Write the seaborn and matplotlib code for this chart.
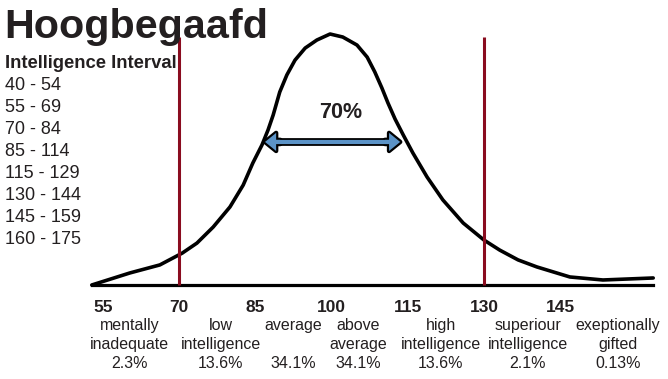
import matplotlib
matplotlib.use('Agg')
import matplotlib.pyplot as plt
import seaborn as sns
import pandas as pd
from matplotlib.patches import FancyArrowPatch

# ---------------- data ----------------
title = 'Hoogbegaafd'
interval_header = 'Intelligence Interval'
intervals = ['40 - 54', '55 - 69', '70 - 84', '85 - 114',
             '115 - 129', '130 - 144', '145 - 159', '160 - 175']

curve_iq = [52.8, 60.3, 66.2, 70.6, 73.5, 76.7, 80.0, 82.6, 84.5, 86.3, 87.5,
            88.5, 89.8, 91.2, 92.8, 94.8, 97.1, 99.7, 102.2, 105.0, 107.0,
            108.5, 109.9, 111.1, 112.5, 114.1, 116.0, 118.8, 121.9, 125.9,
            130.0, 133.1, 136.7, 140.4, 146.9, 153.4, 163.3]
curve_freq = [0, 4.8, 8.0, 12.7, 16.7, 23.1, 31.1, 39.8, 48.6, 55.8, 61.8,
              67.7, 76.9, 83.7, 89.6, 94.4, 97.6, 100, 98.8, 95.6, 90.8,
              84.9, 78.5, 72.5, 66.1, 59.8, 52.6, 43.0, 33.9, 24.7,
              17.9, 13.9, 10.0, 7.2, 3.2, 2.0, 2.8]

tick_values = [55, 70, 85, 100, 115, 130, 145, 160]
tick_labels = ['55', '70', '85', '100', '115', '130', '145', '']

category_line1 = ['mentally', 'low', 'average', 'above', 'high',
                  'superiour', 'exeptionally']
category_line2 = ['inadequate', 'intelligence', '', 'average',
                  'intelligence', 'intelligence', 'gifted']
category_shares = ['2.3%', '13.6%', '34.1%', '34.1%', '13.6%', '2.1%', '0.13%']

cutoffs = [70, 130]
central_share = '70%'

# ---------------- layout ----------------
W, H = 668, 379
XLIM = (34.74, 166.21)
YLIM = (-37.45, 113.55)
cat_x = [60.3, 78.2, 92.4, 105.2, 121.5, 138.6, 156.4]
arrow_left, arrow_right, arrow_y = 86.9, 113.5, 57.0
TXT = '#231f20'
RED = '#8a0c1f'
BLUE = '#5b93c7'

sns.set_theme(style='white')
plt.rcParams['font.family'] = ['Liberation Sans', 'DejaVu Sans']

fig = plt.figure(figsize=(W / 100, H / 100), dpi=100)
ax = fig.add_axes([0, 0, 1, 1])
ax.set_facecolor('white')

df = pd.DataFrame({'iq': curve_iq, 'freq': curve_freq})
sns.lineplot(data=df, x='iq', y='freq', ax=ax, color='black', lw=2.6,
             sort=True, estimator=None, zorder=3)
for ln in ax.lines:
    ln.set_solid_joinstyle('round')
    ln.set_solid_capstyle('round')

ax.vlines(cutoffs, 0, 98.8, color=RED, lw=2.2, zorder=4)

ax.set_xlim(*XLIM)
ax.set_ylim(*YLIM)
ax.set_xlabel('')
ax.set_ylabel('')
ax.set_yticks([])
for s in ['top', 'left', 'right']:
    ax.spines[s].set_visible(False)
ax.spines['bottom'].set_position(('data', 0))
ax.spines['bottom'].set_bounds(curve_iq[0], curve_iq[-1])
ax.spines['bottom'].set_linewidth(2.3)
ax.spines['bottom'].set_color('black')
ax.set_xticks(tick_values, tick_labels)
ax.tick_params(axis='x', direction='out', length=6, width=2.3, color='black',
               pad=4.5, labelsize=12.5, labelcolor=TXT)
for lab in ax.get_xticklabels():
    lab.set_fontweight('bold')

# double arrow: black shaft + blue shaft, black-outlined blue heads
head_span = 3.0
ax.plot([arrow_left + 2, arrow_right - 2], [arrow_y, arrow_y], color='black',
        lw=5.6, solid_capstyle='butt', zorder=5)
style = 'simple,head_length=8,head_width=13,tail_width=3'
for end, start in ((arrow_left, arrow_left + head_span),
                   (arrow_right, arrow_right - head_span)):
    ax.add_patch(FancyArrowPatch((start, arrow_y), (end, arrow_y),
                                 arrowstyle=style, mutation_scale=1,
                                 shrinkA=0, shrinkB=0, facecolor='black',
                                 edgecolor='black', lw=3.2, zorder=5))
ax.plot([arrow_left + 2, arrow_right - 2], [arrow_y, arrow_y], color=BLUE,
        lw=3.0, solid_capstyle='butt', zorder=6)
for end, start in ((arrow_left, arrow_left + head_span),
                   (arrow_right, arrow_right - head_span)):
    ax.add_patch(FancyArrowPatch((start, arrow_y), (end, arrow_y),
                                 arrowstyle=style, mutation_scale=1,
                                 shrinkA=0, shrinkB=0, facecolor=BLUE,
                                 edgecolor='none', lw=0, zorder=6))

ax.text(101.85, 66.5, central_share, fontsize=15.5, fontweight='bold',
        color=TXT, ha='center', va='baseline', zorder=7)

# category texts
xt = ax.get_xaxis_transform()
for x, l1, l2, sh in zip(cat_x, category_line1, category_line2, category_shares):
    ax.text(x, 1 - 330 / H, l1, transform=xt, ha='center', va='baseline',
            fontsize=11.5, color=TXT)
    ax.text(x, 1 - 349 / H, l2, transform=xt, ha='center', va='baseline',
            fontsize=11.5, color=TXT)
    ax.text(x, 1 - 368 / H, sh, transform=xt, ha='center', va='baseline',
            fontsize=11.5, color=TXT)

# title and interval list
fig.text(4 / W, 1 - 38 / H, title, fontsize=29.7, fontweight='bold',
         color=TXT, ha='left', va='baseline')
fig.text(5 / W, 1 - 68 / H, interval_header, fontsize=13.3, fontweight='bold',
         color=TXT, ha='left', va='baseline')
for i, t in enumerate(intervals):
    fig.text(5 / W, 1 - (90 + 22 * i) / H, t, fontsize=13,
             color=TXT, ha='left', va='baseline')

fig.savefig('out.png', dpi=100, facecolor='white')
